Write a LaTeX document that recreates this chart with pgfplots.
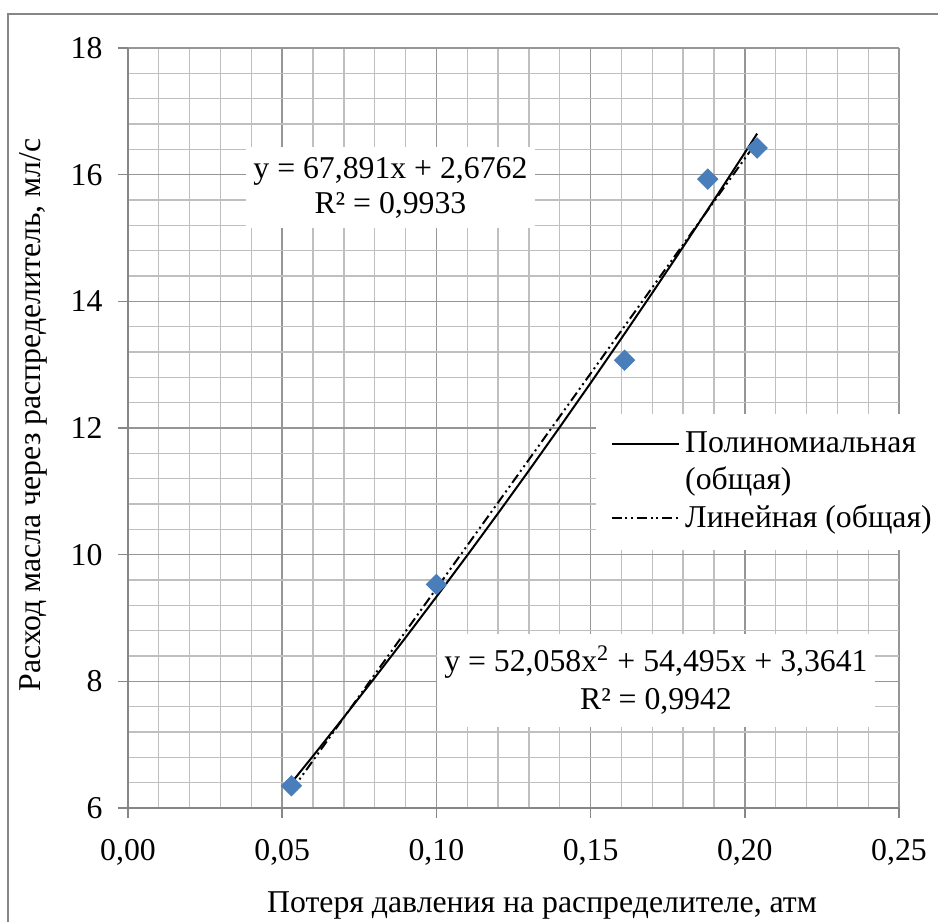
\documentclass[border=0pt]{standalone}
\usepackage{fontspec}
\setmainfont{Liberation Serif}
\usepackage{pgfplots}
\pgfplotsset{compat=1.18}
\definecolor{ptblue}{RGB}{74,126,187}
\definecolor{axgray}{RGB}{134,134,134}
\definecolor{majgrid}{RGB}{150,150,150}
\definecolor{mingrid}{RGB}{191,191,191}

\begin{document}
\fontsize{12.7}{15}\selectfont
\begin{tikzpicture}
\useasboundingbox (0,0) rectangle (375.2pt,368.8pt);
\draw[axgray,line width=0.6pt] (3.2pt,-2pt) -- (3.2pt,363.2pt) -- (380pt,363.2pt);
\begin{axis}[
  at={(51.2pt,45.6pt)}, anchor=south west,
  scale only axis, width=308.4pt, height=304pt,
  xmin=0, xmax=0.25, ymin=6, ymax=18,
  xtick={0,0.05,0.1,0.15,0.2,0.25}, ytick={6,8,10,12,14,16,18},
  minor x tick num=4, minor y tick num=4,
  grid=both,
  major grid style={draw=majgrid,line width=0.6pt},
  minor grid style={draw=mingrid,line width=0.5pt},
  axis x line*=bottom, axis y line*=left,
  axis line style={-,draw=axgray,line width=0.8pt},
  tick align=outside, major tick length=4pt, minor tick length=0pt,
  tick style={draw=axgray,line width=0.6pt},
  /pgf/number format/assume math mode=true,
  x tick label style={/pgf/number format/use comma,/pgf/number format/fixed,
    /pgf/number format/fixed zerofill,/pgf/number format/precision=2},
  tick label style={font=\fontsize{12.7}{15}\selectfont},
  xticklabel style={yshift=-4pt},
  yticklabel style={xshift=-1.8pt},
  label style={font=\fontsize{12.7}{15}\selectfont},
  xlabel={Потеря давления на распределителе, атм},
  ylabel={Расход масла через распределитель, мл/с},
  xlabel style={at={(axis description cs:0.537,-0.128)},anchor=center},
  ylabel style={at={(axis description cs:-0.123,0.517)},anchor=center},
  legend style={at={(rel axis cs:0.606,0.519)}, anchor=north west,
    fill=white, draw=none, font=\fontsize{12.7}{16}\selectfont,
    cells={anchor=west}, inner xsep=6pt, inner ysep=5pt},
  legend image code/.code={\draw[#1] (0pt,0pt) -- (27pt,0pt);},
]
\addplot[only marks, mark=square*, mark size=2.83pt,
  mark options={rotate=45,fill=ptblue,draw=ptblue}, forget plot]
  coordinates {(0.053,6.35) (0.100,9.53) (0.161,13.07) (0.188,15.93) (0.204,16.42)};
\addplot[black, line width=0.8pt, no marks] coordinates {
  (0.053,6.3986) (0.06,6.8212) (0.07,7.4338) (0.08,8.0569) (0.09,8.6903)
  (0.10,9.3342) (0.11,9.9885) (0.12,10.6531) (0.13,11.3282) (0.14,12.0137)
  (0.15,12.7097) (0.16,13.4160) (0.17,14.1327) (0.18,14.8599) (0.19,15.5974)
  (0.20,16.3454) (0.204,16.6475)};
\addlegendentry{Полиномиальная}
\addlegendimage{empty legend}
\addlegendentry{(общая)}
\addplot[black, line width=0.8pt, no marks,
  dash pattern=on 4pt off 1.5pt on 0.8pt off 1.5pt on 0.8pt off 1.5pt]
  coordinates {(0.053,6.2744) (0.204,16.5260)};
\addlegendentry{Линейная (общая)}
\node[fill=white, align=center, inner xsep=3pt, inner ysep=4pt,
  font=\fontsize{12.7}{14}\selectfont] at (axis cs:0.0851,15.79)
  {y = 67,891x + 2,6762\\R² = 0,9933};
\node[fill=white, align=center, inner xsep=3pt, inner ysep=5pt,
  font=\fontsize{12.7}{15}\selectfont] at (axis cs:0.1712,8.02)
  {y = 52,058x\textsuperscript{2} + 54,495x + 3,3641\\R² = 0,9942};
\end{axis}
\end{tikzpicture}
\end{document}
